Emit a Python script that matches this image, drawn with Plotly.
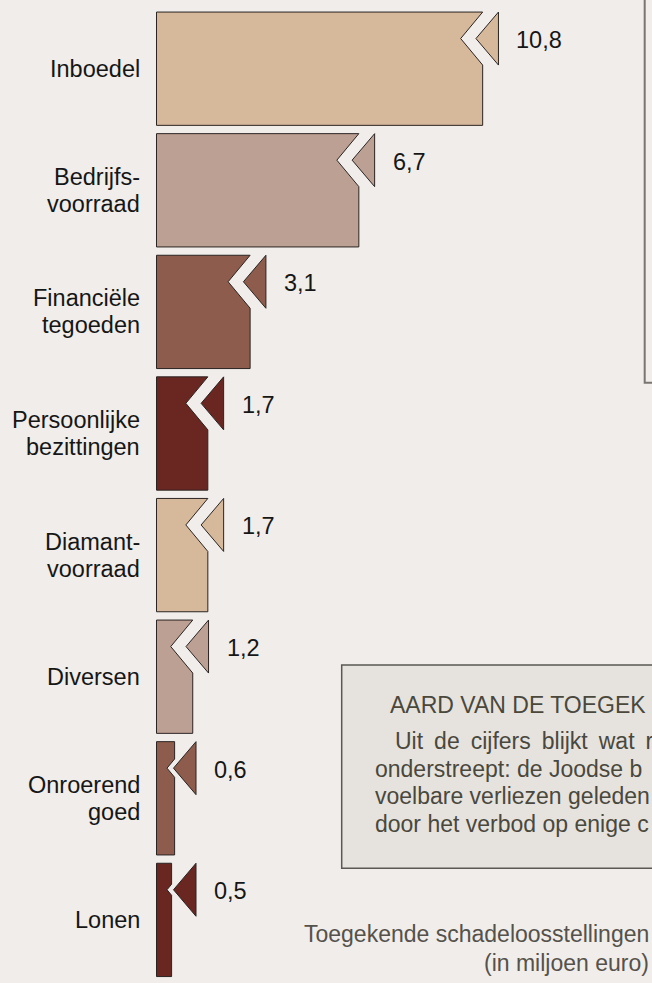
import plotly.graph_objects as go

# ---------------- data ----------------
categories = [
    ["Inboedel"],
    ["Bedrijfs-", "voorraad"],
    ["Financiële", "tegoeden"],
    ["Persoonlijke", "bezittingen"],
    ["Diamant-", "voorraad"],
    ["Diversen"],
    ["Onroerend", "goed"],
    ["Lonen"],
]
values = [10.8, 6.7, 3.1, 1.7, 1.7, 1.2, 0.6, 0.5]
value_labels = [f"{v:.1f}".replace(".", ",") for v in values]

box_title = "AARD VAN DE TOEGEK"
box_lines = [
    "Uit\u2009 de\u2009 cijfers\u2009 blijkt\u2009 wat\u2009 r",
    "onderstreept: de Joodse b",
    "voelbare verliezen geleden",
    "door het verbod op enige c",
]
footer_lines = ["Toegekende schadeloosstellingen", "(in miljoen euro)"]

# ---------------- styles ----------------
palette = ["#D6B89B", "#BDA094", "#8E5C4C", "#6A2621"]
BG = "#F0EDEA"
FONT = "Liberation Sans, Arial, sans-serif"
FS = 23.5

W, H = 652, 983
X0PX = 156.5      # pixel position of value 0
PXU = 30.2        # pixels per million euro
ROW0 = 68.7       # pixel centre of first row
ROWPX = 121.6     # pixel pitch of rows
BAR_H = 113.3     # bar height in pixels


def dx(px):
    return px / PXU


def dy(px):
    return px / ROWPX


def py(px):
    return 1 - px / H


fig = go.Figure()
annotations = []

for i, (v, cat, lab) in enumerate(zip(values, categories, value_labels)):
    col = palette[i % len(palette)]
    top = i - dy(BAR_H / 2)
    bot = i + dy(BAR_H / 2)
    r_px = v * PXU
    tip_px = max(r_px - 6.7, 17)
    tr_px = tip_px + 22.5
    inner_px = max(tip_px - 15.3, 10.5)
    depth = r_px - inner_px
    half = min(26.5, depth / 0.83)
    mid = top + dy(26.5)

    xs = [0, v, v, dx(inner_px), v, v, 0, 0]
    ys = [top, top, mid - dy(half), mid, mid + dy(half), bot, bot, top]
    fig.add_trace(go.Scatter(
        x=xs, y=ys, mode="lines", fill="toself", fillcolor=col,
        line=dict(color="#2a2422", width=1), hoverinfo="skip", showlegend=False))

    tx = [dx(tip_px), dx(tr_px), dx(tr_px), dx(tip_px)]
    ty = [mid, top, top + dy(53), mid]
    fig.add_trace(go.Scatter(
        x=tx, y=ty, mode="lines", fill="toself", fillcolor=col,
        line=dict(color="#2a2422", width=1), hoverinfo="skip", showlegend=False))

    annotations.append(dict(
        x=dx(tr_px + 16), y=mid + dy(1.5), xref="x", yref="y", text=lab,
        showarrow=False, xanchor="left", yanchor="middle",
        font=dict(family=FONT, size=FS, color="#161616")))

    n = len(cat)
    for k, line in enumerate(cat):
        off = (k - (n - 1) / 2) * 27
        annotations.append(dict(
            x=dx(142 - X0PX), y=i + dy(off), xref="x", yref="y", text=line,
            showarrow=False, xanchor="right", yanchor="middle",
            font=dict(family=FONT, size=FS, color="#161616")))

annotations.append(dict(
    x=388 / W, y=py(705), xref="paper", yref="paper", text=box_title,
    showarrow=False, xanchor="left", yanchor="middle",
    font=dict(family=FONT, size=23, color="#4a483c")))
line_x = [393, 373.3, 373.3, 373.3]
for k, (t, lx) in enumerate(zip(box_lines, line_x)):
    annotations.append(dict(
        x=lx / W, y=py(741 + k * 27.5), xref="paper", yref="paper", text=t,
        showarrow=False, xanchor="left", yanchor="middle",
        font=dict(family=FONT, size=23, color="#4a483c")))

for k, t in enumerate(footer_lines):
    annotations.append(dict(
        x=650.5 / W, y=py(934 + k * 29), xref="paper", yref="paper", text=t,
        showarrow=False, xanchor="right", yanchor="middle",
        font=dict(family=FONT, size=23, color="#55514b")))

shapes = [
    dict(type="rect", xref="paper", yref="paper",
         x0=644.7 / W, x1=1.2, y0=py(382.7), y1=1.2,
         line=dict(color="#7a7570", width=2), fillcolor="rgba(0,0,0,0)", layer="below"),
    dict(type="rect", xref="paper", yref="paper",
         x0=341.7 / W, x1=1.2, y0=py(868.3), y1=py(665),
         line=dict(color="#5a5852", width=1.5), fillcolor="#E6E3DF", layer="below"),
]

fig.update_layout(
    width=W, height=H,
    margin=dict(l=0, r=0, t=0, b=0),
    paper_bgcolor=BG, plot_bgcolor=BG,
    xaxis=dict(range=[-X0PX / PXU, (W - X0PX) / PXU], visible=False, fixedrange=True),
    yaxis=dict(range=[(H - ROW0) / ROWPX, -ROW0 / ROWPX], visible=False, fixedrange=True),
    annotations=annotations,
    shapes=shapes,
    showlegend=False,
)

fig.write_html(
    "out.html",
    config={"displayModeBar": False},
    post_script="document.body.style.margin='0';document.body.style.overflow='hidden';",
)
